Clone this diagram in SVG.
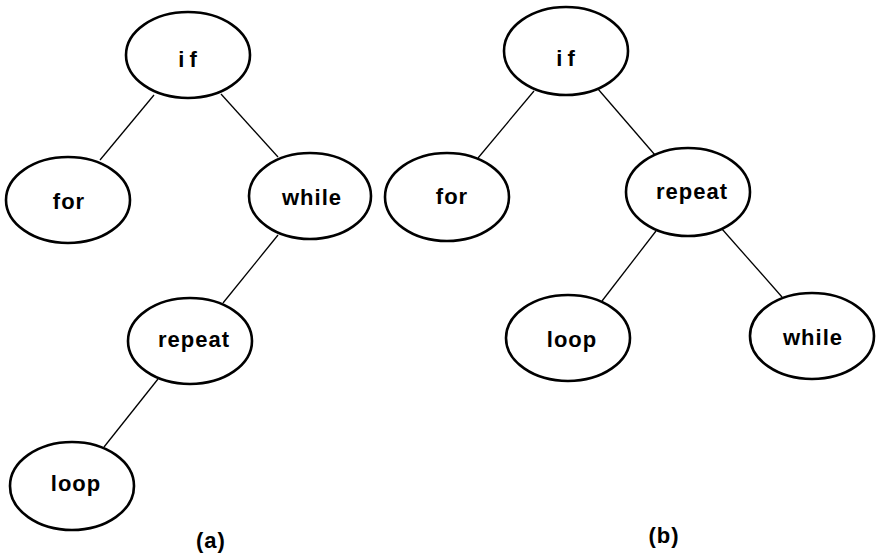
<svg xmlns="http://www.w3.org/2000/svg" width="881" height="556" viewBox="0 0 881 556">
<style>
.n ellipse{fill:#fff;stroke:#000;stroke-width:2.6}
.n text{font-family:"Liberation Sans",Arial,sans-serif;font-weight:bold;font-size:22px;letter-spacing:1px;text-anchor:middle;fill:#000}
#edges line{stroke:#000;stroke-width:1.3}
.cap{font-family:"Liberation Sans",Arial,sans-serif;font-weight:bold;font-size:22px;letter-spacing:1px;text-anchor:middle;fill:#000}
</style>
<rect width="881" height="556" fill="#fff"/>
<g id="edges">
<line x1="154" y1="95" x2="100" y2="160"/>
<line x1="221" y1="94" x2="278" y2="157"/>
<line x1="278" y1="235" x2="223" y2="303"/>
<line x1="158" y1="379" x2="104" y2="447"/>
<line x1="534" y1="91" x2="478" y2="158"/>
<line x1="598" y1="89" x2="655" y2="155"/>
<line x1="656" y1="231" x2="602" y2="301"/>
<line x1="722" y1="229" x2="782" y2="297"/>
</g>
<g id="a-if" class="n"><ellipse cx="188" cy="55" rx="62" ry="43"/><text x="190" y="67" style="letter-spacing:5px">if</text></g>
<g id="a-for" class="n"><ellipse cx="68" cy="200" rx="62" ry="43"/><text x="69" y="209">for</text></g>
<g id="a-while" class="n"><ellipse cx="310" cy="196" rx="61" ry="43"/><text x="312" y="205">while</text></g>
<g id="a-repeat" class="n"><ellipse cx="190" cy="341" rx="62" ry="43"/><text x="194" y="347">repeat</text></g>
<g id="a-loop" class="n"><ellipse cx="72" cy="486" rx="62" ry="44"/><text x="76" y="491">loop</text></g>
<g id="b-if" class="n"><ellipse cx="566" cy="51" rx="62" ry="44"/><text x="568" y="66" style="letter-spacing:5px">if</text></g>
<g id="b-for" class="n"><ellipse cx="447" cy="197" rx="62" ry="44"/><text x="452" y="204">for</text></g>
<g id="b-repeat" class="n"><ellipse cx="688" cy="192" rx="62" ry="44"/><text x="692" y="199">repeat</text></g>
<g id="b-loop" class="n"><ellipse cx="568" cy="338" rx="62" ry="43"/><text x="572" y="347">loop</text></g>
<g id="b-while" class="n"><ellipse cx="812" cy="336" rx="62" ry="43"/><text x="813" y="345">while</text></g>
<text class="cap" x="211" y="548">(a)</text>
<text class="cap" x="664" y="543">(b)</text>
</svg>
